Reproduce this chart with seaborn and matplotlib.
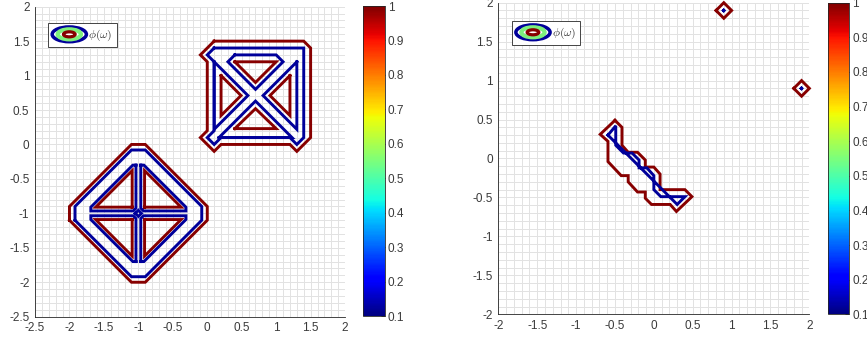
import matplotlib
matplotlib.use("Agg")
import matplotlib.pyplot as plt
from matplotlib.colors import Normalize
from matplotlib.legend_handler import HandlerBase
from matplotlib.patches import Ellipse
from matplotlib.ticker import MultipleLocator, FormatStrFormatter
import seaborn as sns

# contour outlines of phi(omega), as (x, y) vertices
# red = level 1, blue = level 0.1

# left panel: diamond around (-1, -1)
diamond_red_outer = [(-2.0, -1.1), (-2.0, -0.9), (-1.1, 0.0), (-0.9, 0.0), (0.0, -0.9),
                     (0.0, -1.1), (-0.9, -2.0), (-1.1, -2.0)]
diamond_blue_outer = [(-1.92, -1.1), (-1.92, -0.9), (-1.1, -0.08), (-0.9, -0.08), (-0.08, -0.9),
                      (-0.08, -1.1), (-0.9, -1.92), (-1.1, -1.92)]
diamond_red_holes = [
    [(-1.09, -0.91), (-1.62, -0.91), (-1.09, -0.38)],
    [(-0.91, -0.91), (-0.38, -0.91), (-0.91, -0.38)],
    [(-1.09, -1.09), (-1.62, -1.09), (-1.09, -1.62)],
    [(-0.91, -1.09), (-0.38, -1.09), (-0.91, -1.62)],
]
diamond_blue_holes = [
    [(-1.035, -0.30), (-1.035, -0.925), (-1.075, -0.965), (-1.69, -0.965), (-1.69, -0.91), (-1.08, -0.30)],
    [(-0.965, -0.30), (-0.965, -0.925), (-0.925, -0.965), (-0.31, -0.965), (-0.31, -0.91), (-0.92, -0.30)],
    [(-1.035, -1.70), (-1.035, -1.075), (-1.075, -1.035), (-1.69, -1.035), (-1.69, -1.09), (-1.08, -1.70)],
    [(-0.965, -1.70), (-0.965, -1.075), (-0.925, -1.035), (-0.31, -1.035), (-0.31, -1.09), (-0.92, -1.70)],
]
diamond_blue_center = [(-1.045, -1.0), (-1.0, -0.955), (-0.955, -1.0), (-1.0, -1.045)]

# left panel: square with an X
square_red_outer = [(0.1, 1.5), (1.4, 1.5), (1.5, 1.4), (1.5, 0.1), (1.3, -0.1), (1.2, 0.0),
                    (0.2, 0.0), (0.1, -0.1), (-0.1, 0.1), (0.0, 0.2), (0.0, 1.2), (-0.1, 1.3)]
square_blue_outer = [(0.1, 1.4), (1.4, 1.4), (1.4, 0.1), (1.3, 0.0), (1.2, 0.1), (0.2, 0.1),
                     (0.1, 0.0), (0.0, 0.1), (0.1, 0.2), (0.1, 1.2), (0.0, 1.3)]
square_red_holes = [
    [(0.4, 1.2), (1.0, 1.2), (0.7, 0.9)],
    [(0.4, 0.23), (1.0, 0.23), (0.7, 0.52)],
    [(0.2, 1.0), (0.2, 0.42), (0.49, 0.71)],
    [(1.2, 1.0), (1.2, 0.42), (0.91, 0.71)],
]
square_blue_holes = [
    [(0.4, 1.3), (1.0, 1.3), (1.1, 1.2), (0.7, 0.8), (0.3, 1.2)],
    [(0.17, 0.1), (0.7, 0.63), (1.23, 0.1)],
    [(0.1, 1.2), (0.59, 0.71), (0.1, 0.22)],
    [(1.3, 1.2), (0.81, 0.71), (1.3, 0.22)],
]

# right panel: thin blob and two single points
blob_red = [(-0.5, 0.49), (-0.41, 0.4), (-0.41, 0.17), (-0.33, 0.08), (-0.21, 0.08), (-0.11, -0.02),
            (-0.11, -0.11), (0.0, -0.11), (0.08, -0.2), (0.08, -0.4), (0.4, -0.4), (0.49, -0.49),
            (0.29, -0.68), (0.21, -0.59), (-0.03, -0.59), (-0.11, -0.51), (-0.11, -0.43),
            (-0.21, -0.43), (-0.33, -0.3), (-0.33, -0.22), (-0.42, -0.22), (-0.59, -0.04),
            (-0.59, 0.22), (-0.69, 0.31)]
blob_blue = [(-0.59, 0.3), (-0.49, 0.42), (-0.49, 0.17), (-0.39, 0.07), (-0.28, 0.07), (-0.19, -0.02),
             (-0.19, -0.12), (-0.09, -0.12), (0.0, -0.22), (0.0, -0.4), (0.09, -0.49),
             (0.4, -0.49), (0.3, -0.59)]
dot_centers = [(0.9, 1.9), (1.9, 0.9)]
dot_red_radius = 0.1
dot_blue_radius = 0.004

cbar_ticks = [0.1, 0.2, 0.3, 0.4, 0.5, 0.6, 0.7, 0.8, 0.9, 1.0]
RED = "#870000"
BLUE = "#00009a"
GRID = "#e2e2e2"
AXIS = "#262626"
LABEL = "#3a3a3a"
FS = 8.5


class Rings:
    pass


class RingsHandler(HandlerBase):
    def create_artists(self, legend, orig_handle, xdescent, ydescent, width, height, fontsize, trans):
        cx = 0.5 * width - xdescent
        cy = 0.5 * height - ydescent
        out = []
        for frac, col, lw in [(1.0, BLUE, 2.5), (0.68, "#7df07d", 3.0), (0.34, RED, 2.3)]:
            out.append(Ellipse((cx, cy), width * frac, height * frac, fill=False,
                               edgecolor=col, lw=lw, transform=trans))
        return out


def draw_path(ax, pts, color):
    pts = list(pts) + [pts[0]]
    xs = [p[0] for p in pts]
    ys = [p[1] for p in pts]
    sns.lineplot(x=xs, y=ys, sort=False, estimator=None, color=color, lw=2.1,
                 solid_joinstyle="miter", solid_capstyle="projecting", ax=ax, clip_on=False)


def diamond(c, r):
    return [(c[0] - r, c[1]), (c[0], c[1] + r), (c[0] + r, c[1]), (c[0], c[1] - r)]


def style_axes(ax, lo, hi):
    ax.set_xlim(lo, hi)
    ax.set_ylim(lo, hi)
    for a in (ax.xaxis, ax.yaxis):
        a.set_major_locator(MultipleLocator(0.5))
        a.set_minor_locator(MultipleLocator(0.1))
        a.set_major_formatter(FormatStrFormatter("%g"))
    ax.grid(which="both", color=GRID, lw=0.7)
    ax.set_axisbelow(True)
    for s in ("top", "right"):
        ax.spines[s].set_visible(False)
    for s in ("left", "bottom"):
        ax.spines[s].set_color(AXIS)
        ax.spines[s].set_linewidth(0.6)
    ax.tick_params(which="major", direction="in", length=3.5, width=0.6, color=AXIS,
                   labelcolor=LABEL, labelsize=FS, pad=4)
    ax.tick_params(which="minor", direction="in", length=2, width=0.5, color=AXIS)


def add_legend(ax, anchor):
    leg = ax.legend([Rings()], [r"$\phi(\omega)$"], handler_map={Rings: RingsHandler()},
                    loc="upper left", bbox_to_anchor=anchor, borderaxespad=0, fontsize=8.5,
                    handlelength=2.9, handleheight=1.55, handletextpad=0.15, borderpad=0.35,
                    fancybox=False, framealpha=1, edgecolor=AXIS)
    leg.get_frame().set_linewidth(0.6)
    for t in leg.get_texts():
        t.set_color(LABEL)


def add_cbar(fig, rect, cmap):
    cax = fig.add_axes(rect)
    sm = plt.cm.ScalarMappable(norm=Normalize(0.1, 1.0), cmap=cmap)
    cb = fig.colorbar(sm, cax=cax, ticks=cbar_ticks)
    cb.ax.yaxis.set_major_formatter(FormatStrFormatter("%g"))
    cb.outline.set_edgecolor(AXIS)
    cb.outline.set_linewidth(0.6)
    cb.ax.tick_params(direction="in", length=3, width=0.6, color=AXIS,
                      labelcolor=LABEL, labelsize=FS, pad=2)


def main():
    sns.set_theme(style="white")
    plt.rcParams["font.family"] = ["Liberation Sans", "DejaVu Sans"]
    plt.rcParams["axes.unicode_minus"] = False
    plt.rcParams["mathtext.fontset"] = "cm"

    jet = matplotlib.colormaps["jet"]
    fig = plt.figure(figsize=(8.67, 3.41), dpi=100)

    ax1 = fig.add_axes([0.0404, 0.0713, 0.3576, 0.9091])
    style_axes(ax1, -2.5, 2.0)
    reds = [diamond_red_outer] + diamond_red_holes + [square_red_outer] + square_red_holes
    blues = ([diamond_blue_outer] + diamond_blue_holes + [diamond_blue_center, square_blue_outer]
             + square_blue_holes)
    for p in reds:
        draw_path(ax1, p, RED)
    for p in blues:
        draw_path(ax1, p, BLUE)
    add_legend(ax1, (0.042, 0.948))
    add_cbar(fig, [0.419, 0.0733, 0.025, 0.909], jet)

    ax2 = fig.add_axes([0.5748, 0.0783, 0.3587, 0.9138])
    style_axes(ax2, -2.0, 2.0)
    draw_path(ax2, blob_red, RED)
    draw_path(ax2, blob_blue, BLUE)
    for c in dot_centers:
        draw_path(ax2, diamond(c, dot_red_radius), RED)
        draw_path(ax2, diamond(c, dot_blue_radius), BLUE)
    add_legend(ax2, (0.043, 0.942))
    add_cbar(fig, [0.9554, 0.0783, 0.0242, 0.9138], jet)

    fig.savefig("out.png", dpi=100)


if __name__ == "__main__":
    main()
